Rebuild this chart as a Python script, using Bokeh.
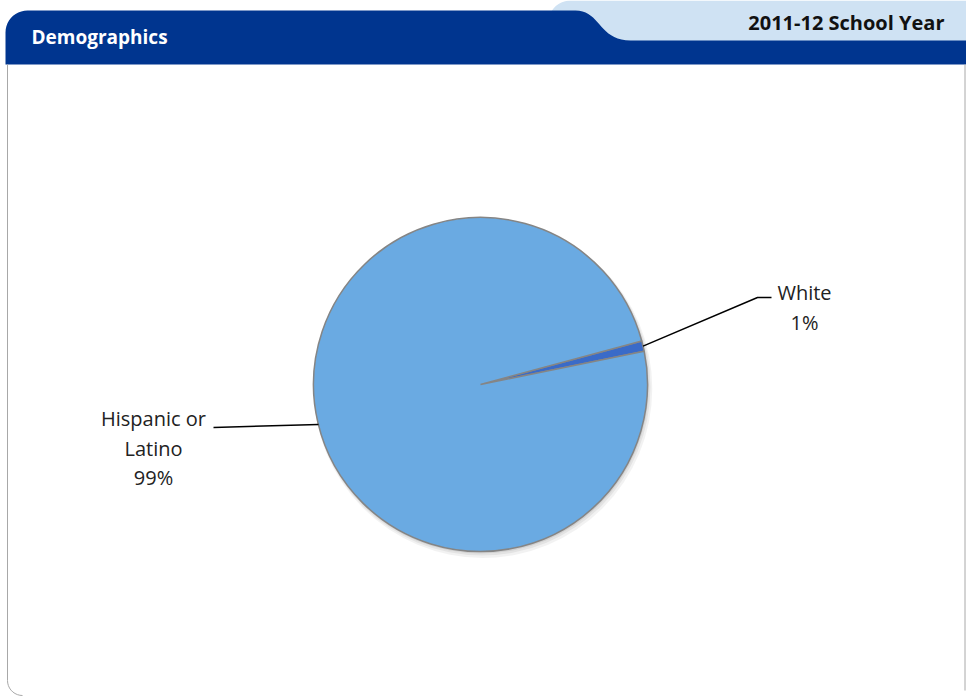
import math
import numpy as np
from bokeh.plotting import figure
from bokeh.models import ColumnDataSource, Range1d
from bokeh.core.properties import value
from bokeh.embed import file_html
from bokeh.resources import INLINE

# ---- data ----
categories = ["Hispanic or Latino", "White"]
percents = [99, 1]
label_lines = [["Hispanic or", "Latino", "99%"], ["White", "1%"]]
header_title = "Demographics"
header_year = "2011-12 School Year"

W, H = 966, 698
FONT = "Open Sans"

def Y(py):
    return H - py

p = figure(width=W, height=H, x_range=Range1d(0, W), y_range=Range1d(0, H),
           output_backend="svg", toolbar_location=None,
           x_axis_type=None, y_axis_type=None, min_border=0)
p.outline_line_color = None
p.grid.visible = False
p.background_fill_color = "white"
p.border_fill_color = "white"

# ---- header ----
r = 22
xs, ys = [], []
for t in np.linspace(math.pi, math.pi / 2, 12):
    xs.append(548 + r + r * math.cos(t)); ys.append(Y(0 + r - r * math.sin(t)))
xs += [W, W, 548]; ys += [Y(0), Y(42), Y(42)]
p.patch(xs, ys, fill_color="#cfe2f3", line_color=None)

xs, ys = [5], [Y(64)]
for t in np.linspace(math.pi, math.pi / 2, 12):
    xs.append(5 + r + r * math.cos(t)); ys.append(Y(10 + r - r * math.sin(t)))
P0, P1, P2, P3 = (575, 10), (600, 10), (598, 40), (630, 40)
for t in np.linspace(0, 1, 20):
    bx = (1-t)**3*P0[0] + 3*(1-t)**2*t*P1[0] + 3*(1-t)*t**2*P2[0] + t**3*P3[0]
    by = (1-t)**3*P0[1] + 3*(1-t)**2*t*P1[1] + 3*(1-t)*t**2*P2[1] + t**3*P3[1]
    xs.append(bx); ys.append(Y(by))
xs += [W, W]; ys += [Y(40), Y(64)]
p.patch(xs, ys, fill_color="#00358f", line_color=None)

p.text(x=[31], y=[Y(36)], text=[header_title], text_color="white",
       text_font=value(FONT), text_font_size="19px", text_font_style="bold",
       text_baseline="middle", text_align="left")
p.text(x=[944], y=[Y(22)], text=[header_year], text_color="#111111",
       text_font=value(FONT), text_font_size="20px", text_font_style="bold",
       text_baseline="middle", text_align="right")

# content border
bx, by = [7, 7], [Y(64), Y(680)]
for t in np.linspace(math.pi, 1.5 * math.pi, 10):
    bx.append(22 + 15 * math.cos(t)); by.append(Y(680 - 15 * math.sin(t)))
p.line(bx, by, line_color="#a8a8a8", line_width=1)
p.line([W - 1.5, W - 1.5], [Y(64), Y(690)], line_color="#a8a8a8", line_width=1)

# ---- pie ----
cx, cy, R = 480, Y(384), 167
offset = math.radians(11.5)
total = sum(percents)
order = [1, 0]
starts, ends, cols = [], [], []
colors = {0: "#6aaae2", 1: "#3a6bc8"}
acc = offset
angle_of = {}
for i in order:
    span = 2 * math.pi * percents[i] / total
    starts.append(acc); ends.append(acc + span); cols.append(colors[i])
    angle_of[i] = acc + span / 2
    acc += span

for k, a in [(4, 0.05), (2.5, 0.06), (1.2, 0.08)]:
    p.circle(x=[cx + k * 0.6], y=[cy - k], radius=R + k * 0.6,
             fill_color="black", fill_alpha=a, line_color=None)

src = ColumnDataSource(dict(start=starts, end=ends, color=cols))
p.wedge(x=cx, y=cy, radius=R, start_angle="start", end_angle="end",
        fill_color="color", line_color="#858585", line_width=1.5, source=src)

# ---- labels ----
p.line([213, 318], [Y(427), Y(424)], line_color="black", line_width=1.5)
for k, t in enumerate(label_lines[0]):
    p.text(x=[153], y=[Y(418 + 29.5 * k)], text=[t], text_color="#222222",
           text_font=value(FONT), text_font_size="20px",
           text_align="center", text_baseline="middle")
wx = cx + R * math.cos(angle_of[1])
wy = cy + R * math.sin(angle_of[1])
p.line([wx, 757, 771], [wy, Y(297), Y(297)], line_color="black", line_width=1.5)
for k, t in enumerate(label_lines[1]):
    p.text(x=[804], y=[Y(292 + 29.5 * k)], text=[t], text_color="#222222",
           text_font=value(FONT), text_font_size="20px",
           text_align="center", text_baseline="middle")

open("out.html", "w").write(file_html(p, INLINE))
